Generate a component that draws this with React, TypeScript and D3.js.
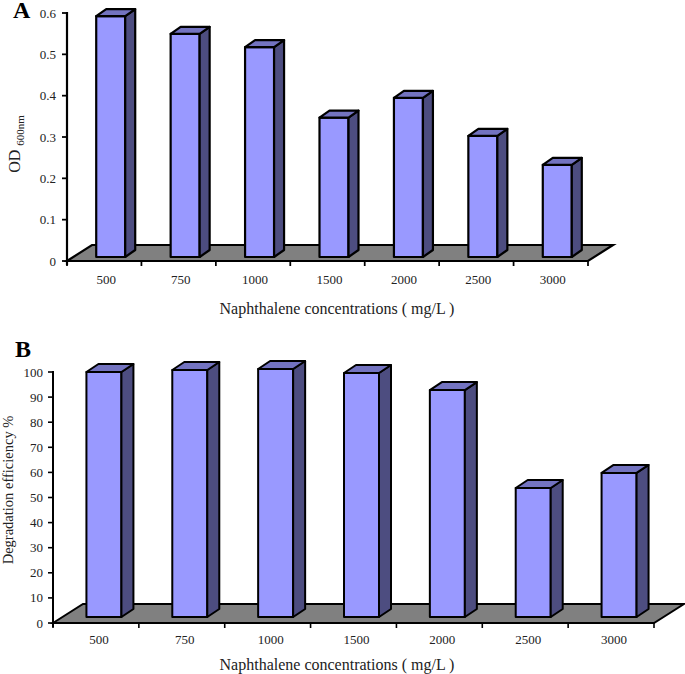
import React from "react";
import * as d3 from "d3";

const categories = ["500", "750", "1000", "1500", "2000", "2500", "3000"];
const odValues = [0.583, 0.54, 0.508, 0.337, 0.385, 0.293, 0.223];
const efficiencyValues = [97.6, 98.4, 98.8, 97.2, 90.4, 51.4, 57.4];
const odTicks = [0, 0.1, 0.2, 0.3, 0.4, 0.5, 0.6];
const efficiencyTicks = [0, 10, 20, 30, 40, 50, 60, 70, 80, 90, 100];
const xTitle = "Naphthalene concentrations ( mg/L )";

const FRONT = "#9999ff";
const SIDE = "#4d4d80";
const TOP = "#7373c0";
const FLOOR = "#808080";
const FONT = "'Liberation Serif', serif";

type PanelProps = {
  values: number[];
  ticks: number[];
  yMax: number;
  x0: number;
  x1: number;
  yTop: number;
  yZero: number;
  depth: [number, number];
  barDepth: [number, number];
  barOffset: [number, number];
  barWidth: number;
  sw: number;
  tickFont: number;
  tickGap: number;
  xLabelY: number;
  xLabelShift: number;
  titleX: number;
  titleY: number;
  letter: string;
  letterX: number;
  letterY: number;
  yLabel: React.ReactNode;
};

function Panel(p: PanelProps) {
  const y = d3.scaleLinear().domain([0, p.yMax]).range([p.yZero, p.yTop]);
  const x = d3.scaleBand().domain(categories).range([p.x0, p.x1]).padding(0);
  const [dx, dy] = p.depth;
  const [bx, by] = p.barDepth;
  const [ox, oy] = p.barOffset;
  const line = d3.line();
  const poly = (pts: [number, number][]) => line(pts) + "Z";
  const floor = poly([
    [p.x0, p.yZero],
    [p.x0 + dx, p.yZero + dy],
    [p.x1 + dx, p.yZero + dy],
    [p.x1, p.yZero],
  ]);
  const edges = [...categories.map((c) => x(c) as number), p.x1];
  return (
    <g fontFamily={FONT} fill="#222">
      <path d={floor} fill={FLOOR} stroke="#000" strokeWidth={p.sw} strokeLinejoin="miter" />
      {categories.map((c, i) => {
        const cx = (x(c) as number) + x.bandwidth() / 2 + ox;
        const l = cx - p.barWidth / 2;
        const r = cx + p.barWidth / 2;
        const b = p.yZero + oy;
        const t = y(p.values[i]) + oy;
        return (
          <g key={c} stroke="#000" strokeWidth={p.sw} strokeLinejoin="round">
            <path d={poly([[l, t], [l, b], [r, b], [r, t]])} fill={FRONT} />
            <path d={poly([[r, t], [r, b], [r + bx, b + by], [r + bx, t + by]])} fill={SIDE} />
            <path d={poly([[l, t], [r, t], [r + bx, t + by], [l + bx, t + by]])} fill={TOP} />
          </g>
        );
      })}
      <line x1={p.x0} x2={p.x0} y1={p.yTop - 1} y2={p.yZero + 4} stroke="#000" strokeWidth={p.sw} />
      <line x1={p.x0} x2={p.x1} y1={p.yZero} y2={p.yZero} stroke="#000" strokeWidth={p.sw} />
      {p.ticks.map((t) => (
        <g key={t}>
          <line x1={p.x0 - 5} x2={p.x0} y1={y(t)} y2={y(t)} stroke="#000" strokeWidth={p.sw * 0.8} />
          <text x={p.x0 - p.tickGap} y={y(t)} dy="0.35em" textAnchor="end" fontSize={p.tickFont}>
            {t}
          </text>
        </g>
      ))}
      {edges.map((e) => (
        <line key={e} x1={e} x2={e} y1={p.yZero} y2={p.yZero + 5} stroke="#000" strokeWidth={p.sw * 0.8} />
      ))}
      {categories.map((c) => (
        <text
          key={c}
          x={(x(c) as number) + x.bandwidth() / 2 + p.xLabelShift}
          y={p.xLabelY}
          textAnchor="middle"
          fontSize={p.tickFont}
        >
          {c}
        </text>
      ))}
      <text x={p.titleX} y={p.titleY} textAnchor="middle" fontSize={16}>
        {xTitle}
      </text>
      {p.yLabel}
      <text x={p.letterX} y={p.letterY} fontSize={24} fontWeight="bold" fill="#000">
        {p.letter}
      </text>
    </g>
  );
}

export default function App() {
  return (
    <svg
      width={685}
      height={674}
      style={{ position: "absolute", left: 0, top: 0, background: "#fff" }}
    >
      <Panel
        values={odValues}
        ticks={odTicks}
        yMax={0.6}
        x0={67}
        x1={588}
        yTop={13}
        yZero={261}
        depth={[25, -16]}
        barDepth={[10, -7]}
        barOffset={[6.5, -4]}
        barWidth={29}
        sw={2.2}
        tickFont={13}
        tickGap={11}
        xLabelY={284}
        xLabelShift={2}
        titleX={337}
        titleY={314}
        letter="A"
        letterX={13}
        letterY={18}
        yLabel={
          <text transform="translate(20,144) rotate(-90)" textAnchor="middle" fontSize={16}>
            OD <tspan fontSize={11} dy={4}>600nm</tspan>
          </text>
        }
      />
      <Panel
        values={efficiencyValues}
        ticks={efficiencyTicks}
        yMax={100}
        x0={53}
        x1={654}
        yTop={372}
        yZero={623}
        depth={[30, -19]}
        barDepth={[12, -8]}
        barOffset={[8, -6]}
        barWidth={35}
        sw={2}
        tickFont={13}
        tickGap={10}
        xLabelY={644}
        xLabelShift={3}
        titleX={337}
        titleY={670}
        letter="B"
        letterX={15}
        letterY={357}
        yLabel={
          <text transform="translate(13,490) rotate(-90)" textAnchor="middle" fontSize={14.5}>
            Degradation efficiency %
          </text>
        }
      />
    </svg>
  );
}
